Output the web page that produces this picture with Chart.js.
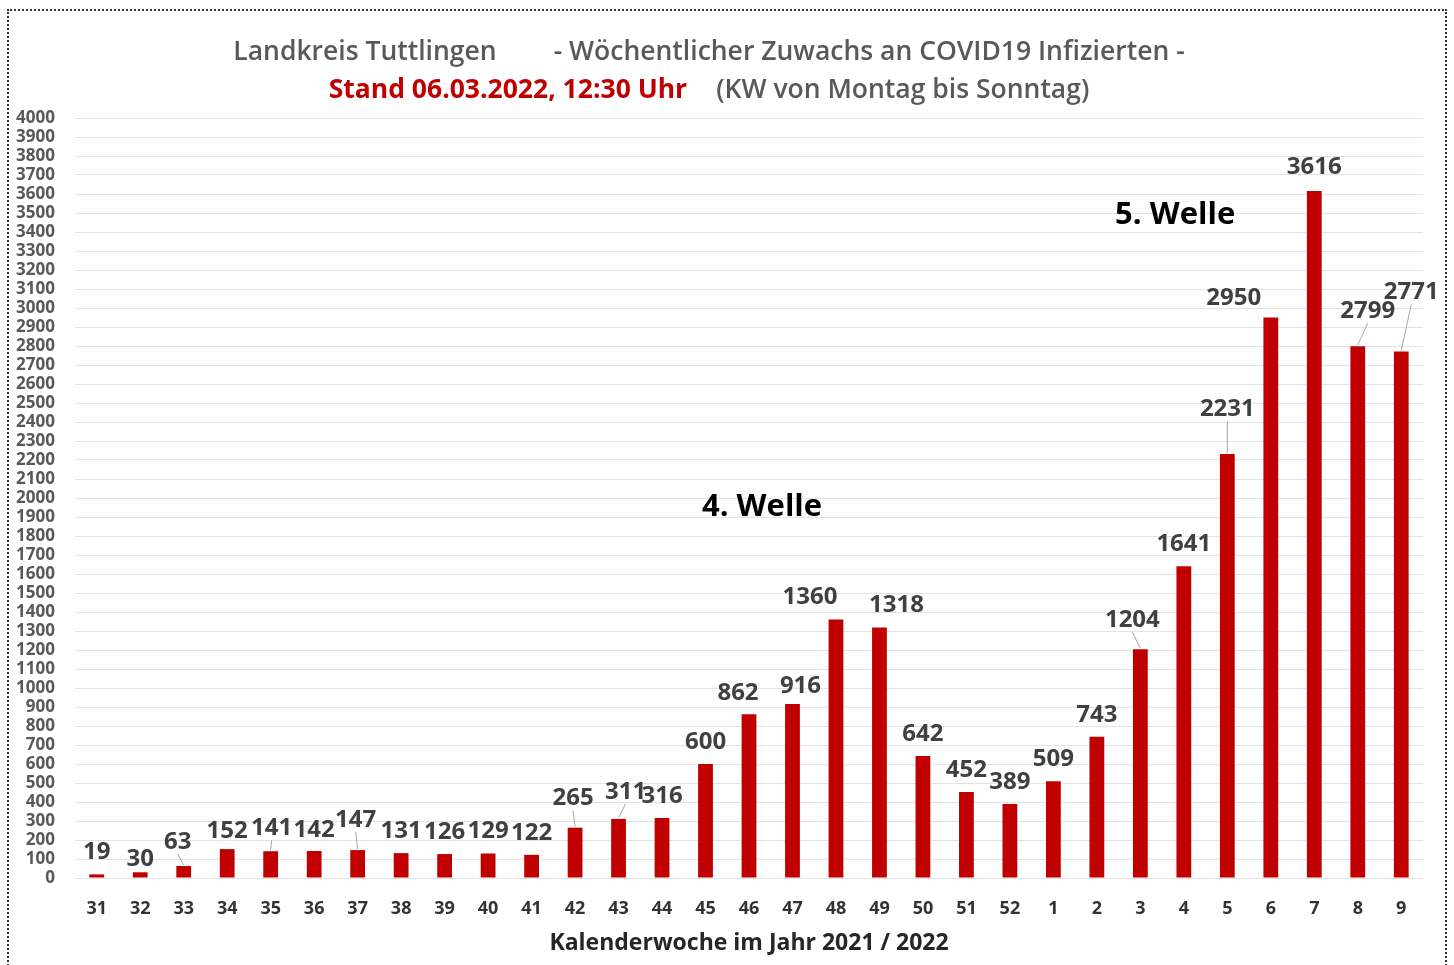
<!DOCTYPE html>
<html>
<head>
<meta charset="utf-8">
<script src="https://cdn.jsdelivr.net/npm/chart.js@4.4.0/dist/chart.umd.min.js"></script>
<style>
  body { margin: 0; background: #fff; }
  #wrap { position: relative; width: 1454px; height: 965px; }
  #frame { position: absolute; left: 7px; top: 9px; right: 7px; bottom: -4px; border: 2px dotted #333; }
  .title { position: absolute; left: 0; width: 1418px; text-align: center; font-family: 'Open Sans', sans-serif; font-weight: 600; color: #595959; white-space: nowrap; }
  #t1 { top: 32px; font-size: 26.5px; }
  #t2 { top: 70px; font-size: 26.5px; }
  .red { color: #c00000; font-weight: 700; }
  canvas { position: absolute; left: 0; top: 0; }
</style>
</head>
<body>
<div id="wrap">
  <canvas id="chart" width="1454" height="965"></canvas>
  <div id="frame"></div>
  <div class="title" id="t1"><span>Landkreis Tuttlingen</span><span style="margin-left:57px">- Wöchentlicher Zuwachs an COVID19 Infizierten -</span></div>
  <div class="title" id="t2"><span class="red">Stand 06.03.2022, 12:30 Uhr</span><span style="margin-left:29px">(KW von Montag bis Sonntag)</span></div>
</div>
<script>
// Kalenderwochen 2021 / 2022
const weeks = ['31', '32', '33', '34', '35', '36', '37', '38', '39', '40', '41', '42', '43', '44', '45', '46',
               '47', '48', '49', '50', '51', '52', '1', '2', '3', '4', '5', '6', '7', '8', '9'];
// weekly new infections
const cases = [19, 30, 63, 152, 141, 142, 147, 131, 126, 129, 122, 265, 311, 316, 600, 862,
               916, 1360, 1318, 642, 452, 389, 509, 743, 1204, 1641, 2231, 2950, 3616, 2799, 2771];

// where labels got moved in the original (dx, dy in px, leader line)
const labelNudge = {
    1: [0, 9], 2: [-6, -2, true], 3: [0, 4], 4: [1, -1, true], 5: [0, 1], 6: [-2, -8, true],
    11: [-2, -7, true], 12: [7, -5, true], 15: [-11, 1], 16: [8, 4], 17: [-26, 0], 18: [17, 0],
    24: [-8, -7, true], 26: [0, -23, true], 27: [-37, 3], 28: [0, -2], 29: [10, -13, true], 30: [10, -37, true]
};

const waves = [
    { text: '4. Welle', x: 15.3, y: 1953 },
    { text: '5. Welle', x: 24.8, y: 3489 }
];

const barLabels = {
    id: 'barLabels',
    afterDatasetsDraw(chart) {
        const ctx = chart.ctx;
        const meta = chart.getDatasetMeta(0);
        ctx.save();
        ctx.font = '700 24px "Open Sans"';
        ctx.textAlign = 'center';
        ctx.textBaseline = 'middle';
        meta.data.forEach((bar, i) => {
            const n = labelNudge[i] || [0, 0];
            const lx = bar.x + n[0];
            const ly = bar.y - 22 + n[1];
            if (n[2]) {
                ctx.strokeStyle = '#a6a6a6';
                ctx.lineWidth = 1;
                ctx.beginPath();
                ctx.moveTo(bar.x, bar.y - 1);
                ctx.lineTo(lx, ly + 12);
                ctx.stroke();
            }
            ctx.fillStyle = '#404040';
            ctx.fillText(cases[i], lx, ly);
        });
        ctx.font = '700 31px "Open Sans"';
        ctx.fillStyle = '#000';
        waves.forEach(w => {
            ctx.fillText(w.text, chart.scales.x.getPixelForValue(w.x), chart.scales.y.getPixelForValue(w.y));
        });
        ctx.restore();
    }
};

new Chart(document.getElementById('chart'), {
    type: 'bar',
    data: {
        labels: weeks,
        datasets: [{
            data: cases,
            backgroundColor: '#c00000',
            categoryPercentage: 1,
            barPercentage: 0.34
        }]
    },
    options: {
        responsive: false,
        animation: false,
        layout: { padding: { top: 118, right: 31, bottom: 0, left: 0 } },
        plugins: {
            legend: { display: false },
            tooltip: { enabled: false }
        },
        scales: {
            x: {
                grid: { display: false },
                border: { display: false },
                ticks: {
                    color: '#333',
                    font: { family: 'Open Sans', size: 18, weight: '700' },
                    padding: 12,
                    maxRotation: 0,
                    autoSkip: false
                },
                title: {
                    display: true,
                    text: 'Kalenderwoche im Jahr 2021 / 2022',
                    color: '#262626',
                    font: { family: 'Open Sans', size: 23, weight: '700' },
                    padding: { top: 0, bottom: 8 }
                },
                afterFit: s => { s.height = 87; }
            },
            y: {
                min: 0,
                max: 4000,
                grid: { color: '#e3e3e3', drawTicks: false },
                border: { display: false },
                ticks: {
                    stepSize: 100,
                    autoSkip: false,
                    color: '#595959',
                    padding: 20,
                    font: { family: 'Open Sans', size: 17, weight: '700', lineHeight: 1 },
                    callback: v => String(v)
                },
                afterFit: s => { s.width = 75; }
            }
        }
    },
    plugins: [barLabels]
});
</script>
</body>
</html>
